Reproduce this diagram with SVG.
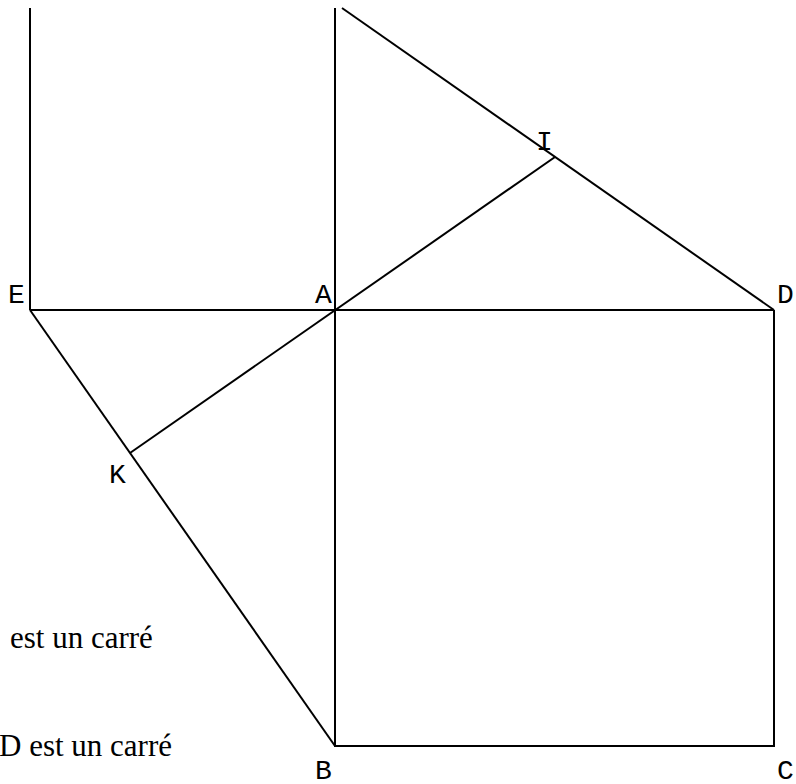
<svg xmlns="http://www.w3.org/2000/svg" width="796" height="784" viewBox="0 0 796 784">
<style>
.ln{stroke:#000;stroke-width:2;fill:none;stroke-linecap:butt}
.lbl{font-family:"Courier New","Liberation Mono",monospace;font-size:28px;fill:#000}
.txt{font-family:"Liberation Serif","Times New Roman",serif;font-size:31px;fill:#000}
</style>
<rect width="796" height="784" fill="#fff"/>
<g id="connectors">
<line class="ln" x1="30" y1="8" x2="30" y2="310"/>
<line class="ln" x1="335" y1="8" x2="335" y2="310"/>
<line class="ln" x1="342" y1="8" x2="774" y2="310"/>
<line class="ln" x1="30" y1="310" x2="774" y2="310"/>
<line class="ln" x1="30" y1="310" x2="335" y2="746"/>
<line class="ln" x1="130" y1="453" x2="555" y2="157"/>
<polyline class="ln" points="335,310 335,746 774,746 774,310"/>
</g>
<g id="E"><text class="lbl" x="8" y="303">E</text></g>
<g id="A"><text class="lbl" x="315" y="303">A</text></g>
<g id="D"><text class="lbl" x="777" y="303">D</text></g>
<g id="I"><text class="lbl" x="536" y="150">I</text></g>
<g id="K"><text class="lbl" x="109" y="483">K</text></g>
<g id="B"><text class="lbl" x="315" y="779">B</text></g>
<g id="C"><text class="lbl" x="777" y="779">C</text></g>
<g id="notes">
<text class="txt" x="10" y="648">est un carré</text>
<text class="txt" x="-1" y="756">D est un carré</text>
</g>
</svg>
